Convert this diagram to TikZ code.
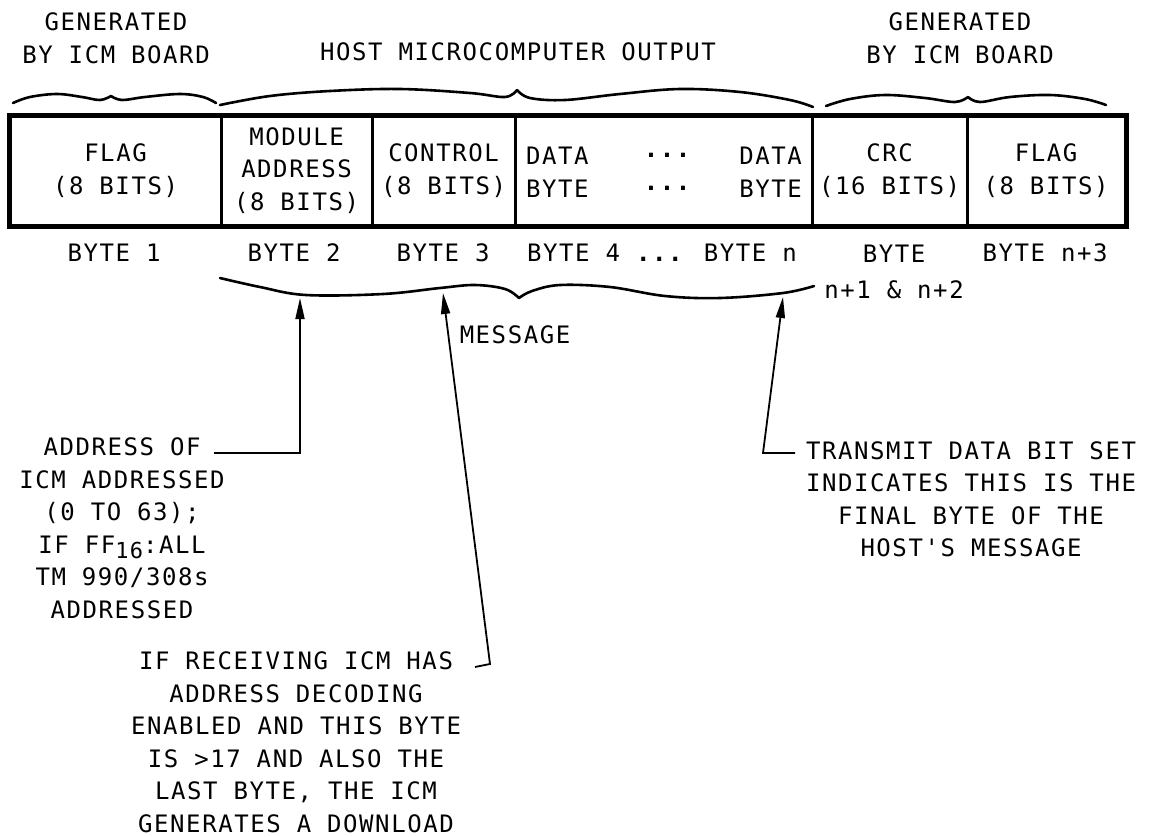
\documentclass[tikz,border=0pt]{standalone}
\usepackage{fontspec}
\usetikzlibrary{arrows.meta}
\newfontfamily\lblfam[LetterSpace=6.5]{DejaVu Sans Mono}
\newcommand{\lblfont}{\lblfam\fontsize{24}{32.5}\selectfont}
\begin{document}
\begin{tikzpicture}[x=1pt,y=-1pt,
  txt/.style={font=\lblfont, inner sep=0pt, align=center},
  cell/.style={draw, line width=3pt, minimum height=109pt, inner sep=0pt, font=\lblfont, align=center},
  brc/.style={line width=2.6pt, line cap=round, line join=round},
  ptr/.style={line width=1.8pt, -{Triangle[length=21pt,width=9pt]}},
  ]
\useasboundingbox[fill=white] (0,0) rectangle (1151,836);

% top labels
\node[txt] (g1) at (116,38.5) {GENERATED\\BY ICM BOARD};
\node[txt] (host) at (518,52) {HOST MICROCOMPUTER OUTPUT};
\node[txt] (g2) at (960,38.5) {GENERATED\\BY ICM BOARD};

% top braces (hand-drawn style)
\draw[brc] plot[smooth, tension=0.6] coordinates {(13,103) (30,97) (57,94) (82,97) (100,100) (111,96)};
\draw[brc] plot[smooth, tension=0.6] coordinates {(111,96) (122,100) (145,97) (180,94) (203,97) (216,103)};
\draw[brc] plot[smooth, tension=0.6] coordinates {(220,105) (270,96) (330,91) (400,89) (470,93) (505,97) (517,90)};
\draw[brc] plot[smooth, tension=0.6] coordinates {(517,90) (530,98) (565,100) (620,94) (680,89) (740,92) (790,100) (813,107)};
\draw[brc] plot[smooth, tension=0.6] coordinates {(826,106) (850,99) (885,95) (925,98) (955,102) (968,97)};
\draw[brc] plot[smooth, tension=0.6] coordinates {(968,97) (980,102) (1010,97) (1050,95) (1085,99) (1106,105)};

% frame cells
\node[cell, minimum width=211pt] (c1) at (115.5,170.5) {FLAG\\(8 BITS)};
\node[cell, minimum width=151pt] (c2) at (296.5,170.5) {MODULE\\ADDRESS\\(8 BITS)};
\node[cell, minimum width=143pt] (c3) at (443.5,170.5) {CONTROL\\(8 BITS)};
\node[cell, minimum width=297pt] (c4) at (663.5,170.5) {};
\node[cell, minimum width=155pt] (c5) at (889.5,170.5) {CRC\\(16 BITS)};
\node[cell, minimum width=158pt] (c6) at (1046,170.5) {FLAG\\(8 BITS)};
\draw[line width=4pt] (c1.north west) rectangle (c6.south east);
\node[txt, anchor=west] (d1) at (526,172) {DATA\\BYTE};
\node[txt] (d2) at (667,172) {\bfseries...\\\bfseries...};
\node[txt, anchor=east, align=right] (d3) at (802,172) {DATA\\BYTE};

% byte numbers
\node[txt] (b1) at (114,253) {BYTE 1};
\node[txt] (b2) at (294,253) {BYTE 2};
\node[txt] (b3) at (443,253) {BYTE 3};
\node[txt] (b4) at (662,253) {BYTE 4 {\bfseries...} BYTE n};
\node[txt] (b5) at (894,272) {BYTE\\[4pt]n+1 \& n+2};
\node[txt] (b6) at (1045,253) {BYTE n+3};

% message brace (pointing down)
\draw[brc] plot[smooth, tension=0.6] coordinates {(220,278) (260,287) (306,295) (383,294) (440,288) (475,285) (505,289) (519,298)};
\draw[brc] plot[smooth, tension=0.6] coordinates {(519,298) (532,291) (560,285) (610,287) (665,296) (720,298) (783,293) (814,286)};
\node[txt] (msg) at (515,335) {MESSAGE};
\coordinate (m1) at (300,298);
\coordinate (m2) at (443,293);
\coordinate (m3) at (783,297);

% annotations
\node[txt] (addr) at (122,528.5) {ADDRESS OF\\ICM ADDRESSED\\(0 TO 63);\\IF FF{\fontsize{22}{22}\selectfont\raisebox{-5pt}{16}}:ALL\\TM 990/308s\\ADDRESSED};
\node[txt] (recv) at (296,742) {IF RECEIVING ICM HAS\\ADDRESS DECODING\\ENABLED AND THIS BYTE\\IS >17 AND ALSO THE\\LAST BYTE, THE ICM\\GENERATES A DOWNLOAD};
\node[txt] (xmit) at (971,499.5) {TRANSMIT DATA BIT SET\\INDICATES THIS IS THE\\FINAL BYTE OF THE\\HOST'S MESSAGE};

% connectors
\coordinate (a1s) at (214,453);
\draw[ptr] (a1s) -| (m1);
\coordinate (a2s) at (475,667);
\coordinate (a2c) at (490,664);
\draw[ptr] (a2s) -- (a2c) -- (m2);
\coordinate (a3s) at (795,453);
\coordinate (a3c) at (763,453);
\draw[ptr] (a3s) -- (a3c) -- (m3);
\end{tikzpicture}
\end{document}
